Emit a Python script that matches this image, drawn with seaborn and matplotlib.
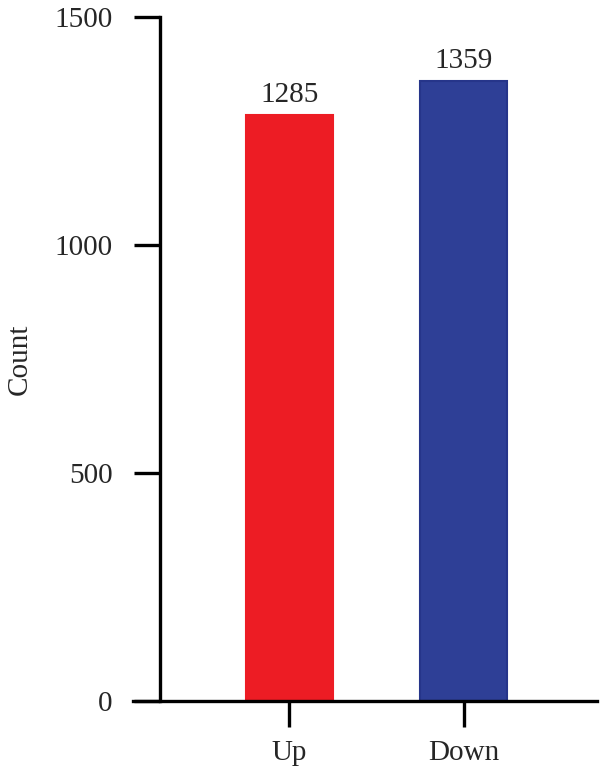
import matplotlib
matplotlib.use('Agg')
import matplotlib.pyplot as plt
import seaborn as sns
import pandas as pd

groups = ['Up', 'Down']
counts = [1285, 1359]
colors = ['#ED1C24', '#2E3F96']
edges = ['#ED1C24', '#26358A']

sns.set_style('white')
plt.rcParams['font.family'] = ['Liberation Serif', 'DejaVu Serif']

df = pd.DataFrame({'group': groups, 'count': counts})

fig = plt.figure(figsize=(6, 7.73), dpi=100)
ax = fig.add_axes([133 / 600, 72 / 773, 464 / 600, 684 / 773])

sns.barplot(data=df, x='group', y='count', hue='group', palette=colors,
            width=0.5, legend=False, saturation=1, ax=ax)
for p, ec in zip(ax.patches, edges):
    p.set_edgecolor(ec)
    p.set_linewidth(1.5)

for i, c in enumerate(counts):
    ax.text(i, c + 15, str(c), ha='center', va='bottom', fontsize=21)

ax.set_xlim(-0.899, 1.767)
ax.set_ylim(0, 1500)
ax.set_yticks([0, 500, 1000, 1500])
ax.set_xlabel('')
ax.set_ylabel('Count', fontsize=21, labelpad=16)

ax.spines['top'].set_visible(False)
ax.spines['right'].set_visible(False)
ax.spines['left'].set_position(('data', -0.744))
for s in ['left', 'bottom']:
    ax.spines[s].set_linewidth(2.4)
    ax.spines[s].set_color('black')
ax.tick_params(axis='both', direction='out', length=19, width=2.4,
               color='black', labelsize=21, left=True, bottom=True)
ax.tick_params(axis='x', pad=9)
ax.tick_params(axis='y', pad=15)

fig.savefig('out.png', dpi=100)
